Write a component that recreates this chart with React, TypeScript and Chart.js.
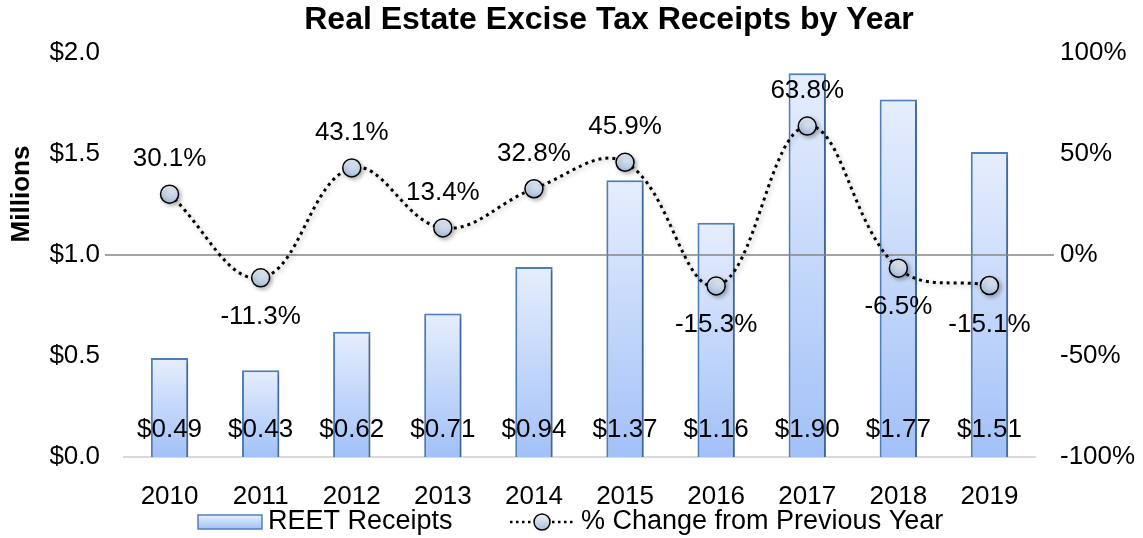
import React, { useEffect, useRef } from "react";
import { Chart, registerables } from "chart.js";
Chart.register(...registerables);

const years = ["2010", "2011", "2012", "2013", "2014", "2015", "2016", "2017", "2018", "2019"];
const receipts = [0.49, 0.43, 0.62, 0.71, 0.94, 1.37, 1.16, 1.9, 1.77, 1.51];
const pctChange = [30.1, -11.3, 43.1, 13.4, 32.8, 45.9, -15.3, 63.8, -6.5, -15.1];
const titleText = "Real Estate Excise Tax Receipts by Year";
const yAxisTitle = "Millions";
const barLabel = "REET Receipts";
const lineLabel = "% Change from Previous Year";

const FONT = "'Liberation Sans', Arial, sans-serif";
const FS = 26;

function barGradient(ctx: CanvasRenderingContext2D, top: number, bot: number) {
  const g = ctx.createLinearGradient(0, top, 0, bot);
  g.addColorStop(0, "#e6eefd");
  g.addColorStop(1, "#a2c1f8");
  return g;
}
function pointGradient(ctx: CanvasRenderingContext2D, y: number, r: number) {
  const g = ctx.createLinearGradient(0, y - r, 0, y + r);
  g.addColorStop(0, "#eef3fb");
  g.addColorStop(1, "#a9bfdc");
  return g;
}

const customPlugin = {
  id: "customDraw",
  beforeDatasetDraw(chart: any) {
    const ctx = chart.ctx;
    ctx.save();
    ctx.shadowColor = "rgba(0,0,0,0.28)";
    ctx.shadowBlur = 4;
    ctx.shadowOffsetX = 2;
    ctx.shadowOffsetY = 2;
  },
  afterDatasetDraw(chart: any, args: any) {
    const ctx = chart.ctx;
    ctx.restore();
    if (args.index === 0) {
      const y1 = chart.scales.y1;
      const yy = y1.getPixelForValue(0);
      ctx.save();
      ctx.strokeStyle = "#868686";
      ctx.lineWidth = 1.5;
      ctx.beginPath();
      ctx.moveTo(chart.chartArea.left - 19, yy);
      ctx.lineTo(chart.chartArea.right + 19, yy);
      ctx.stroke();
      ctx.restore();
    }
  },
  afterDatasetsDraw(chart: any) {
    const ctx = chart.ctx;
    ctx.save();
    ctx.fillStyle = "#000";
    ctx.font = `${FS}px ${FONT}`;
    ctx.textAlign = "center";
    ctx.textBaseline = "middle";
    const barMeta = chart.getDatasetMeta(0);
    const ys = chart.scales.y;
    const base = ys.getPixelForValue(0);
    barMeta.data.forEach((el: any, i: number) => {
      ctx.fillText("$" + receipts[i].toFixed(2), el.x, base - 27);
    });
    const lineMeta = chart.getDatasetMeta(1);
    lineMeta.data.forEach((el: any, i: number) => {
      const v = pctChange[i];
      const off = v >= 0 ? -35 : 39;
      ctx.fillText(v.toFixed(1) + "%", el.x, el.y + off);
    });
    ctx.restore();
  },
  afterDraw(chart: any) {
    const ctx = chart.ctx;
    ctx.save();
    ctx.fillStyle = "#000";
    ctx.font = `bold 32px ${FONT}`;
    ctx.textAlign = "center";
    ctx.textBaseline = "middle";
    ctx.fillText(titleText, 609, 20);
    ctx.save();
    ctx.translate(22, 194);
    ctx.rotate(-Math.PI / 2);
    ctx.font = `bold ${FS}px ${FONT}`;
    ctx.fillText(yAxisTitle, 0, 0);
    ctx.restore();
    const ly = 522;
    ctx.fillStyle = barGradient(ctx, ly - 7, ly + 7);
    ctx.fillRect(198, ly - 7, 64, 14);
    ctx.strokeStyle = "#4f81bd";
    ctx.lineWidth = 1.5;
    ctx.strokeRect(198, ly - 7, 64, 14);
    ctx.fillStyle = "#000";
    ctx.font = `27px ${FONT}`;
    ctx.textAlign = "left";
    ctx.fillText(barLabel, 268, ly);
    ctx.strokeStyle = "#000";
    ctx.lineWidth = 2.5;
    ctx.setLineDash([2.5, 3.5]);
    ctx.beginPath();
    ctx.moveTo(510, ly);
    ctx.lineTo(575, ly);
    ctx.stroke();
    ctx.setLineDash([]);
    ctx.beginPath();
    ctx.arc(542, ly, 8, 0, Math.PI * 2);
    ctx.fillStyle = pointGradient(ctx, ly, 8);
    ctx.fill();
    ctx.lineWidth = 1.5;
    ctx.stroke();
    ctx.fillStyle = "#000";
    ctx.fillText(lineLabel, 581, ly);
    ctx.restore();
  },
};

export default function App() {
  const ref = useRef<HTMLCanvasElement>(null);
  useEffect(() => {
    const chart = new Chart(ref.current as HTMLCanvasElement, {
      type: "bar",
      data: {
        labels: years,
        datasets: [
          {
            type: "bar",
            label: barLabel,
            data: receipts,
            yAxisID: "y",
            order: 2,
            barPercentage: 0.41,
            categoryPercentage: 1,
            borderColor: "#4f81bd",
            borderWidth: 2,
            backgroundColor: (c: any) => {
              const ch = c.chart;
              const ys = ch.scales && ch.scales.y;
              if (!ys || c.type !== "data") return "#c5d8fb";
              const top = ys.getPixelForValue(c.raw);
              const bot = ys.getPixelForValue(0);
              if (!isFinite(top) || !isFinite(bot) || top === bot) return "#c5d8fb";
              return barGradient(ch.ctx, top, bot);
            },
          } as any,
          {
            type: "line",
            label: lineLabel,
            data: pctChange,
            yAxisID: "y1",
            order: 1,
            borderColor: "#000",
            borderWidth: 3,
            borderDash: [3, 4],
            tension: 0.4,
            fill: false,
            pointRadius: 9,
            pointBorderColor: "#000",
            pointBorderWidth: 1.5,
            pointBackgroundColor: (c: any) => {
              const ch = c.chart;
              const ys = ch.scales && ch.scales.y1;
              if (!ys || c.type !== "data") return "#cfdcee";
              const y = ys.getPixelForValue(c.raw);
              if (!isFinite(y)) return "#cfdcee";
              return pointGradient(ch.ctx, y, 9);
            },
          } as any,
        ],
      },
      options: {
        animation: false,
        responsive: true,
        maintainAspectRatio: false,
        layout: { padding: { top: 53, bottom: 0, left: 0, right: 0 } },
        plugins: {
          legend: { display: false },
          title: { display: false },
          tooltip: { enabled: false },
        },
        scales: {
          x: {
            grid: { display: false },
            border: { color: "#d9d9d9", width: 2 },
            ticks: { color: "#000", font: { size: FS, family: FONT }, padding: 16 },
            afterFit: (s: any) => {
              s.height = 81;
            },
          },
          y: {
            position: "left",
            min: 0,
            max: 2,
            grid: { display: false, drawTicks: false },
            border: { display: false },
            ticks: {
              stepSize: 0.5,
              color: "#000",
              font: { size: FS, family: FONT },
              padding: 24,
              callback: (v: any) => "$" + Number(v).toFixed(1),
            },
            afterFit: (s: any) => {
              s.width = 124;
            },
          },
          y1: {
            position: "right",
            min: -100,
            max: 100,
            grid: { display: false, drawTicks: false },
            border: { display: false },
            ticks: {
              stepSize: 50,
              color: "#000",
              font: { size: FS, family: FONT },
              padding: 25,
              callback: (v: any) => v + "%",
            },
            afterFit: (s: any) => {
              s.width = 108;
            },
          },
        },
      },
      plugins: [customPlugin],
    });
    return () => chart.destroy();
  }, []);
  return (
    <div style={{ position: "absolute", left: 0, top: 0, width: 1143, height: 538, background: "#fff" }}>
      <canvas ref={ref} />
    </div>
  );
}
